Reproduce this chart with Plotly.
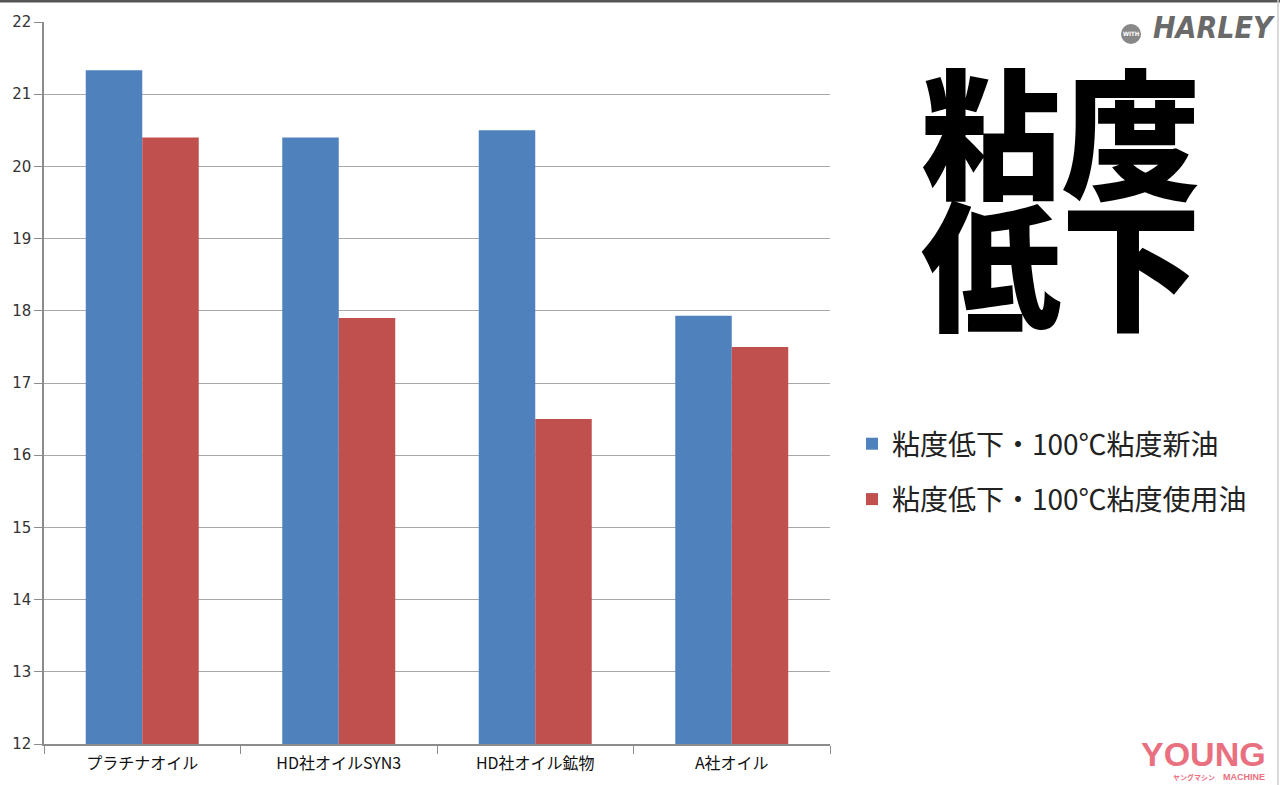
import plotly.graph_objects as go

categories = ["プラチナオイル", "HD社オイルSYN3", "HD社オイル鉱物", "A社オイル"]
new_oil = [21.33, 20.4, 20.5, 17.93]
used_oil = [20.4, 17.9, 16.5, 17.5]
series_names = ["粘度低下・100℃粘度新油", "粘度低下・100℃粘度使用油"]
y_ticks = list(range(12, 23))

W, H = 1280, 785
L, R, T, B = 44, 830, 22, 744

def px(x):
    return (x - L) / (R - L)

def py(y):
    return (B - y) / (B - T)

fig = go.Figure()
fig.add_trace(go.Bar(x=categories, y=new_oil, name=series_names[0],
                     marker=dict(color="#4F81BD", line=dict(width=0)), legendgroup="a"))
fig.add_trace(go.Bar(x=categories, y=used_oil, name=series_names[1],
                     marker=dict(color="#C0504D", line=dict(width=0)), legendgroup="b"))

cjk = "Noto Sans CJK JP, sans-serif"

fig.update_layout(
    width=W, height=H,
    margin=dict(l=L, r=W - R, t=T, b=H - B, pad=0, autoexpand=False),
    paper_bgcolor="white", plot_bgcolor="white",
    barmode="group", bargap=0.425, bargroupgap=0,
    font=dict(family=cjk, color="#222"),
    legend=dict(x=px(852), y=py(419), xanchor="left", yanchor="top",
                font=dict(size=28, family=cjk, color="#222"),
                tracegroupgap=16, itemwidth=30, bgcolor="rgba(0,0,0,0)"),
    showlegend=True,
)
fig.update_xaxes(type="category", showline=True, linecolor="#8c8c8c", linewidth=1.5,
                 ticks="outside", tickson="boundaries", ticklen=8, tickcolor="#8c8c8c",
                 ticklabelstandoff=4, automargin=False,
                 tickfont=dict(size=16, color="#111", family=cjk), showgrid=False)
fig.update_yaxes(range=[12, 22], tickvals=y_ticks, showline=True, linecolor="#8c8c8c",
                 linewidth=1.5, ticks="outside", ticklen=8, tickcolor="#8c8c8c", automargin=False,
                 tickfont=dict(size=15, color="#333", family="DejaVu Sans, sans-serif"),
                 showgrid=True, gridcolor="#a8a8a8", gridwidth=1.2, zeroline=False)

# big title
for txt, yc in [("粘度", 127), ("低下", 259)]:
    fig.add_annotation(text=txt, x=px(1061), y=py(yc), xref="paper", yref="paper",
                       showarrow=False, xanchor="center", yanchor="middle",
                       font=dict(size=140, family=cjk, color="#000", weight=900))

# top and right borders
fig.add_shape(type="line", xref="paper", yref="paper", x0=px(0), x1=px(W), y0=py(1), y1=py(1),
              line=dict(color="#555", width=3))
fig.add_shape(type="line", xref="paper", yref="paper", x0=px(1278), x1=px(1278), y0=py(0), y1=py(H),
              line=dict(color="#ccc", width=1.5))

# WITH HARLEY logo
fig.add_shape(type="circle", xref="paper", yref="paper", x0=px(1121), x1=px(1141), y0=py(24), y1=py(44),
              fillcolor="#888", line=dict(width=0))
fig.add_annotation(text="<b>WITH</b>", x=px(1131), y=py(34), xref="paper", yref="paper", showarrow=False,
                   xanchor="center", yanchor="middle", borderpad=0,
                   font=dict(size=6, color="white", family="DejaVu Sans Condensed, sans-serif"))
fig.add_annotation(text="HARLEY", x=px(1276), y=py(27), xref="paper", yref="paper", showarrow=False,
                   xanchor="right", yanchor="middle", borderpad=0,
                   font=dict(size=30, color="#6a6a6a", family="DejaVu Sans Condensed, sans-serif",
                             weight="bold", style="italic"))

# YOUNG MACHINE logo
fig.add_annotation(text="YOUNG", x=px(1203), y=py(754), xref="paper", yref="paper", showarrow=False,
                   xanchor="center", yanchor="middle", borderpad=0,
                   font=dict(size=34, color="#e9707f", family="Liberation Sans, Arial", weight=900))
fig.add_annotation(text="ヤングマシン", x=px(1216), y=py(777), xref="paper", yref="paper", showarrow=False,
                   xanchor="right", yanchor="middle", borderpad=0,
                   font=dict(size=7, color="#e9707f", family=cjk, weight="bold"))
fig.add_annotation(text="MACHINE", x=px(1266), y=py(777), xref="paper", yref="paper", showarrow=False,
                   xanchor="right", yanchor="middle", borderpad=0,
                   font=dict(size=9, color="#e9707f", family="Liberation Sans, Arial", weight="bold"))

fig.write_html("out.html", config={"displayModeBar": False},
               post_script="document.body.style.margin='0';document.body.style.overflow='hidden';")
